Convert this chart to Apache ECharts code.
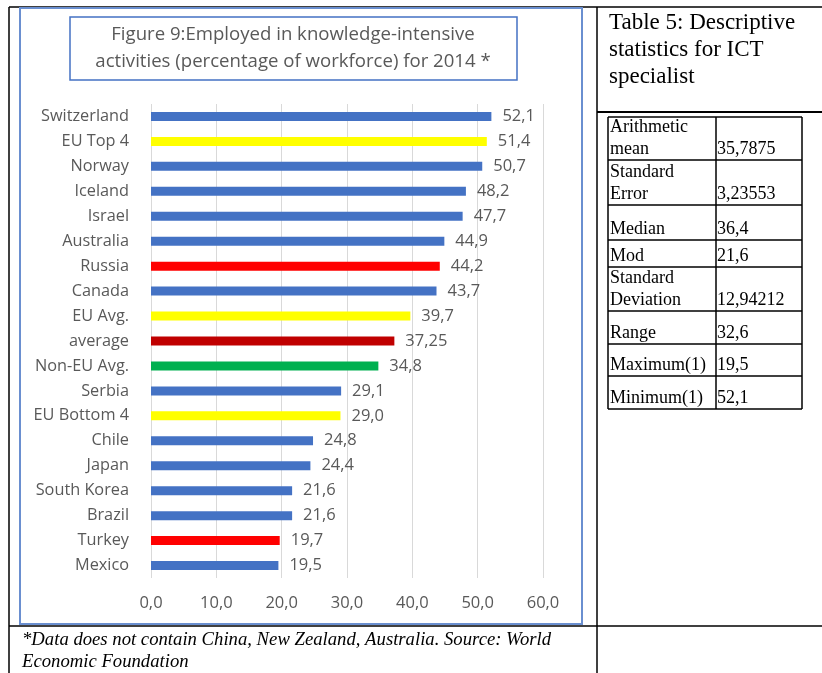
<!DOCTYPE html>
<html>
<head>
<meta charset="utf-8">
<script src="https://cdn.jsdelivr.net/npm/echarts@6/dist/echarts.min.js"></script>
<style>
  html, body { margin: 0; padding: 0; background: #fff; }
  #chart { width: 822px; height: 673px; }
</style>
</head>
<body>
<div id="chart"></div>
<script>
// figure 9 data, top to bottom
var countries = ['Switzerland', 'EU Top 4', 'Norway', 'Iceland', 'Israel', 'Australia', 'Russia', 'Canada',
  'EU Avg.', 'average', 'Non-EU Avg.', 'Serbia', 'EU Bottom 4', 'Chile', 'Japan', 'South Korea', 'Brazil', 'Turkey', 'Mexico'];
var shares = [52.1, 51.4, 50.7, 48.2, 47.7, 44.9, 44.2, 43.7, 39.7, 37.25, 34.8, 29.1, 29.0, 24.8, 24.4, 21.6, 21.6, 19.7, 19.5];
var barColors = ['#4472C4', '#FFFF00', '#4472C4', '#4472C4', '#4472C4', '#4472C4', '#FF0000', '#4472C4',
  '#FFFF00', '#C00000', '#00B050', '#4472C4', '#FFFF00', '#4472C4', '#4472C4', '#4472C4', '#4472C4', '#FF0000', '#4472C4'];

// table 5
var statNames = [['Arithmetic', 'mean'], ['Standard', 'Error'], ['Median'], ['Mod'], ['Standard', 'Deviation'],
  ['Range'], ['Maximum(1)'], ['Minimum(1)']];
var statValues = ['35,7875', '3,23553', '36,4', '21,6', '12,94212', '32,6', '19,5', '52,1'];

var textGray = '#595959';
var sans = '"Open Sans"';
var fmt = function (v) {
  var s = (Math.round(v * 10) === v * 10) ? v.toFixed(1) : String(v);
  return s.replace('.', ',');
};

var myChart = echarts.init(document.getElementById('chart'));

// table layout
var rowLines = [117, 160, 205, 240, 267, 311, 344, 376, 409];
var tL = 608, tM = 716, tR = 802;
var g = [];
var line = function (x1, y1, x2, y2, color, w) {
  g.push({ type: 'line', silent: true, shape: { x1: x1, y1: y1, x2: x2, y2: y2 },
    style: { stroke: color, lineWidth: w } });
};
var serif = '"Liberation Serif", "DejaVu Serif", serif';

// page frame
line(9, 7, 822, 7, '#000', 1.5);
line(9, 7, 9, 673, '#000', 1.5);
line(597, 7, 597, 673, '#000', 1.5);
line(9, 626, 822, 626, '#000', 1.5);
line(597, 112, 822, 112, '#000', 2);

// chart frame and title box
g.push({ type: 'rect', silent: true, shape: { x: 20, y: 8, width: 562, height: 616 },
  style: { fill: 'none', stroke: '#6A8FD0', lineWidth: 2 } });
g.push({ type: 'rect', silent: true, shape: { x: 70, y: 17, width: 447, height: 63 },
  style: { fill: 'none', stroke: '#4472C4', lineWidth: 1.5 } });
g.push({ type: 'text', silent: true, x: 293, y: 48,
  style: { text: 'Figure 9:Employed in knowledge-intensive\nactivities (percentage of workforce) for 2014 *',
    fill: textGray, font: '18.6px ' + sans, align: 'center', verticalAlign: 'middle', lineHeight: 27 } });

// table header
g.push({ type: 'text', silent: true, x: 609, y: 9,
  style: { text: 'Table 5: Descriptive\nstatistics for ICT\nspecialist', fill: '#000',
    font: '23px ' + serif, lineHeight: 27, verticalAlign: 'top' } });

// table grid
rowLines.forEach(function (y) { line(tL, y, tR, y, '#000', 1.5); });
line(tL, rowLines[0], tL, rowLines[rowLines.length - 1], '#000', 1.5);
line(tM, rowLines[0], tM, rowLines[rowLines.length - 1], '#000', 1.5);
line(tR, rowLines[0], tR, rowLines[rowLines.length - 1], '#000', 1.5);

statNames.forEach(function (parts, i) {
  var bottom = rowLines[i + 1];
  parts.forEach(function (p, k) {
    var y = bottom - 11 - (parts.length - 1 - k) * 22;
    g.push({ type: 'text', silent: true, x: tL + 2, y: y,
      style: { text: p, fill: '#000', font: '18px ' + serif, verticalAlign: 'middle' } });
  });
  g.push({ type: 'text', silent: true, x: tM + 1, y: bottom - 11,
    style: { text: statValues[i], fill: '#000', font: '18px ' + serif, verticalAlign: 'middle' } });
});

// footnote
g.push({ type: 'text', silent: true, x: 22, y: 629,
  style: { text: '*Data does not contain China, New Zealand, Australia. Source: World\nEconomic Foundation',
    fill: '#000', font: 'italic 18.7px ' + serif, lineHeight: 22, verticalAlign: 'top' } });

var option = {
  animation: false,
  grid: { left: 151, top: 104, width: 392, height: 474 },
  xAxis: {
    type: 'value', min: 0, max: 60, interval: 10,
    axisLine: { show: false }, axisTick: { show: false },
    axisLabel: { color: textGray, fontSize: 16.5, fontFamily: sans, margin: 17,
      formatter: function (v) { return v.toFixed(1).replace('.', ','); } },
    splitLine: { show: true, lineStyle: { color: '#D9D9D9', width: 1 } }
  },
  yAxis: {
    type: 'category', inverse: true, data: countries,
    axisLine: { show: false }, axisTick: { show: false },
    axisLabel: { color: textGray, fontSize: 16.3, fontFamily: sans, margin: 22 }
  },
  series: [{
    type: 'bar',
    barWidth: 9,
    data: shares.map(function (v, i) {
      return { value: v, itemStyle: { color: barColors[i] } };
    }),
    label: {
      show: true, position: 'right', distance: 11,
      color: textGray, fontSize: 16.5, fontFamily: sans,
      formatter: function (p) { return fmt(p.value); }
    }
  }],
  graphic: g
};

myChart.setOption(option);
</script>
</body>
</html>
